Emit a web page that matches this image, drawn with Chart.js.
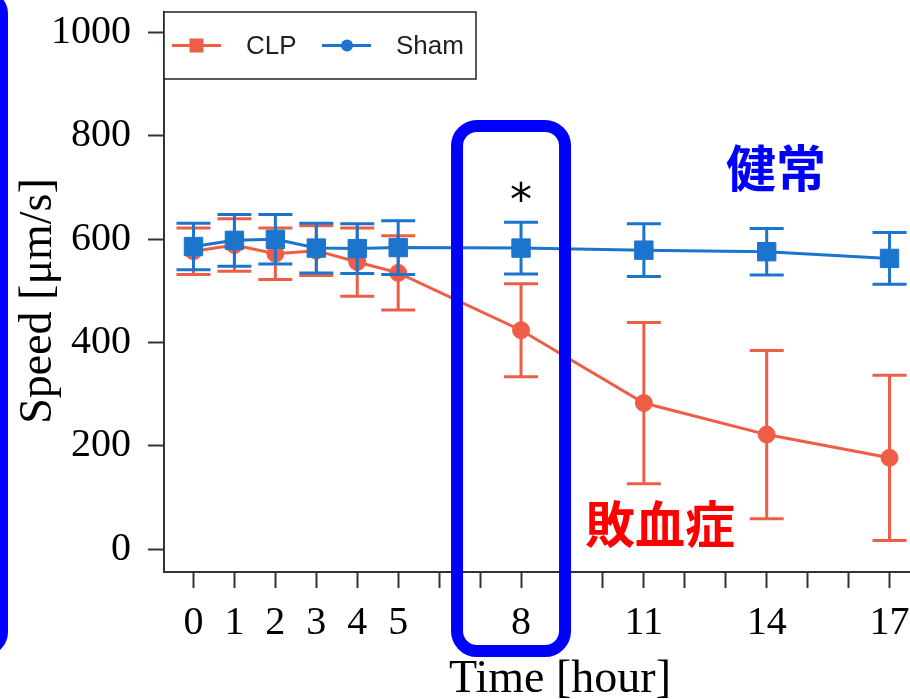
<!DOCTYPE html>
<html lang="ja">
<head>
<meta charset="UTF-8">
<title>Speed - CLP vs Sham</title>
<script src="https://cdn.jsdelivr.net/npm/chart.js"></script>
<style>
  html, body { margin: 0; padding: 0; background: #fff; overflow: hidden; }
  canvas { display: block; }
</style>
</head>
<body>
<canvas id="speedChart" width="910" height="699"></canvas>
<script>
// values
const hours = [0, 1, 2, 3, 4, 5, 8, 11, 14, 17];
const clpMean = [577, 589, 572, 578, 556, 535, 424, 283, 222, 177];
const clpErr = [45, 51, 50, 48, 66, 72, 90, 156, 163, 160];
const shamMean = [586, 598, 600, 583, 582, 584, 583, 579, 576, 563];
const shamErr = [45, 50, 48, 48, 48, 52, 50, 51, 45, 50];
const hourTicks = [0, 1, 2, 3, 4, 5, 6, 7, 8, 9, 10, 11, 12, 13, 14, 15, 16, 17];
const xTickLabels = [0, 1, 2, 3, 4, 5, 8, 11, 14, 17];
const yTicks = [0, 200, 400, 600, 800, 1000];

const red = 'rgb(238, 94, 70)';
const blue = 'rgb(28, 117, 205)';
const serif = '"Liberation Serif", "Times New Roman", serif';
const sans = '"Liberation Sans", Arial, sans-serif';
const cjk = '"Noto Sans CJK JP", "Noto Sans CJK SC", sans-serif';

// draw text so that its ink box is centred on (cx, cy)
function inkText(c, text, cx, cy, font, color, rotate) {
  c.save();
  c.font = font;
  c.fillStyle = color;
  c.textAlign = 'center';
  c.textBaseline = 'alphabetic';
  const m = c.measureText(text);
  c.translate(cx, cy);
  if (rotate) c.rotate(rotate);
  c.fillText(text, 0, (m.actualBoundingBoxAscent - m.actualBoundingBoxDescent) / 2);
  c.restore();
}

function roundBox(c, x0, y0, x1, y1, r) {
  c.beginPath();
  c.moveTo(x0 + r, y0);
  c.arcTo(x1, y0, x1, y1, r);
  c.arcTo(x1, y1, x0, y1, r);
  c.arcTo(x0, y1, x0, y0, r);
  c.arcTo(x0, y0, x1, y0, r);
  c.closePath();
}

// error bars, drawn just before each dataset so markers sit on top
const errorBars = {
  id: 'errorBars',
  beforeDatasetDraw(chart, args) {
    const ds = chart.data.datasets[args.index];
    const ys = chart.scales.y;
    const c = chart.ctx;
    c.save();
    c.strokeStyle = ds.borderColor;
    c.lineWidth = 3;
    args.meta.data.forEach((pt, i) => {
      const v = ds.data[i].y, e = ds.err[i];
      const top = ys.getPixelForValue(v + e), bot = ys.getPixelForValue(v - e);
      c.beginPath();
      c.moveTo(pt.x, top); c.lineTo(pt.x, bot);
      c.moveTo(pt.x - 17, top); c.lineTo(pt.x + 17, top);
      c.moveTo(pt.x - 17, bot); c.lineTo(pt.x + 17, bot);
      c.stroke();
    });
    c.restore();
  }
};

// legend, axis titles and the hand-drawn highlights
const decorations = {
  id: 'decorations',
  afterDraw(chart) {
    const c = chart.ctx;
    const xs = chart.scales.x, ys = chart.scales.y;
    const area = chart.chartArea;

    // legend box
    const lx = area.left, ly = area.top;
    c.save();
    c.fillStyle = '#fff';
    c.fillRect(lx, ly, 312, 67);
    c.strokeStyle = '#222';
    c.lineWidth = 1.5;
    c.strokeRect(lx, ly, 312, 67);
    const items = [
      { ds: chart.data.datasets[0], x: lx + 8, style: 'rect' },
      { ds: chart.data.datasets[1], x: lx + 158, style: 'circle' }
    ];
    items.forEach(it => {
      const my = ly + 33.5;
      c.strokeStyle = it.ds.borderColor;
      c.fillStyle = it.ds.borderColor;
      c.lineWidth = 3;
      c.beginPath();
      c.moveTo(it.x, my); c.lineTo(it.x + 49, my);
      c.stroke();
      if (it.style === 'rect') {
        c.fillRect(it.x + 17.5, my - 7, 14, 14);
      } else {
        c.beginPath();
        c.arc(it.x + 25, my, 6, 0, Math.PI * 2);
        c.fill();
      }
      c.fillStyle = '#222';
      c.font = '26px ' + sans;
      c.textAlign = 'left';
      c.textBaseline = 'middle';
      c.fillText(it.ds.label, it.x + 74, my + 1);
    });
    c.restore();

    // axis titles
    inkText(c, 'Time [hour]', 560, 678, '46px ' + serif, '#000');
    inkText(c, 'Speed [\u03bcm/s]', 39, 301, '46px ' + serif, '#000', -Math.PI / 2);

    // significance mark
    inkText(c, '*', xs.getPixelForValue(8), ys.getPixelForValue(693), '44px "DejaVu Sans", sans-serif', '#000');

    // highlight around the 8 h column
    const p8 = xs.getPixelForValue(8);
    c.save();
    c.strokeStyle = '#0000ff';
    c.lineWidth = 12;
    roundBox(c, p8 - 64, 126, p8 + 44, 651, 20);
    c.stroke();
    // edge of a neighbouring box, cut off at the left
    roundBox(c, -100, -4, 2, 650, 18);
    c.stroke();
    c.restore();

    inkText(c, '健常', 776, 168, 'bold 50px ' + cjk, '#0000ff');
    inkText(c, '敗血症', 660, 524, 'bold 50px ' + cjk, '#ff0000');
  }
};

const toPoints = (xs, ys) => xs.map((h, i) => ({ x: h, y: ys[i] }));

new Chart(document.getElementById('speedChart'), {
  type: 'line',
  data: {
    datasets: [
      {
        label: 'CLP',
        data: toPoints(hours, clpMean),
        err: clpErr,
        borderColor: red,
        backgroundColor: red,
        borderWidth: 3,
        pointStyle: 'circle',
        pointRadius: 8.5,
        pointBorderWidth: 1,
        order: 1
      },
      {
        label: 'Sham',
        data: toPoints(hours, shamMean),
        err: shamErr,
        borderColor: blue,
        backgroundColor: blue,
        borderWidth: 3,
        pointStyle: 'rect',
        pointRadius: 13,
        pointBorderWidth: 1,
        order: 0
      }
    ]
  },
  options: {
    responsive: false,
    animation: false,
    layout: { autoPadding: false, padding: { top: 12, right: 0, bottom: 0, left: 0 } },
    plugins: {
      legend: { display: false },
      tooltip: { enabled: false }
    },
    scales: {
      x: {
        type: 'linear',
        min: -0.72,
        max: 17.5,
        afterFit: s => {
          s.height = 127;
          s.paddingLeft = 0; s.paddingRight = 0;
        },
        afterBuildTicks: s => { s.ticks = hourTicks.map(v => ({ value: v })); },
        ticks: {
          autoSkip: false,
          maxRotation: 0,
          padding: 11,
          color: '#000',
          font: { family: serif, size: 40 },
          callback: v => xTickLabels.includes(v) ? String(v) : ''
        },
        grid: { drawOnChartArea: false, tickLength: 16, tickColor: '#333', tickWidth: 2 },
        border: { color: '#333', width: 2 }
      },
      y: {
        min: -44,
        max: 1040,
        afterFit: s => {
          s.width = 164;
          s.paddingTop = 0; s.paddingBottom = 0;
        },
        afterBuildTicks: s => { s.ticks = yTicks.map(v => ({ value: v })); },
        ticks: {
          padding: 17,
          color: '#000',
          font: { family: serif, size: 40 },
          callback: v => String(v)
        },
        grid: { drawOnChartArea: false, tickLength: 16, tickColor: '#333', tickWidth: 2 },
        border: { color: '#333', width: 2 }
      }
    }
  },
  plugins: [errorBars, decorations]
});
</script>
</body>
</html>
